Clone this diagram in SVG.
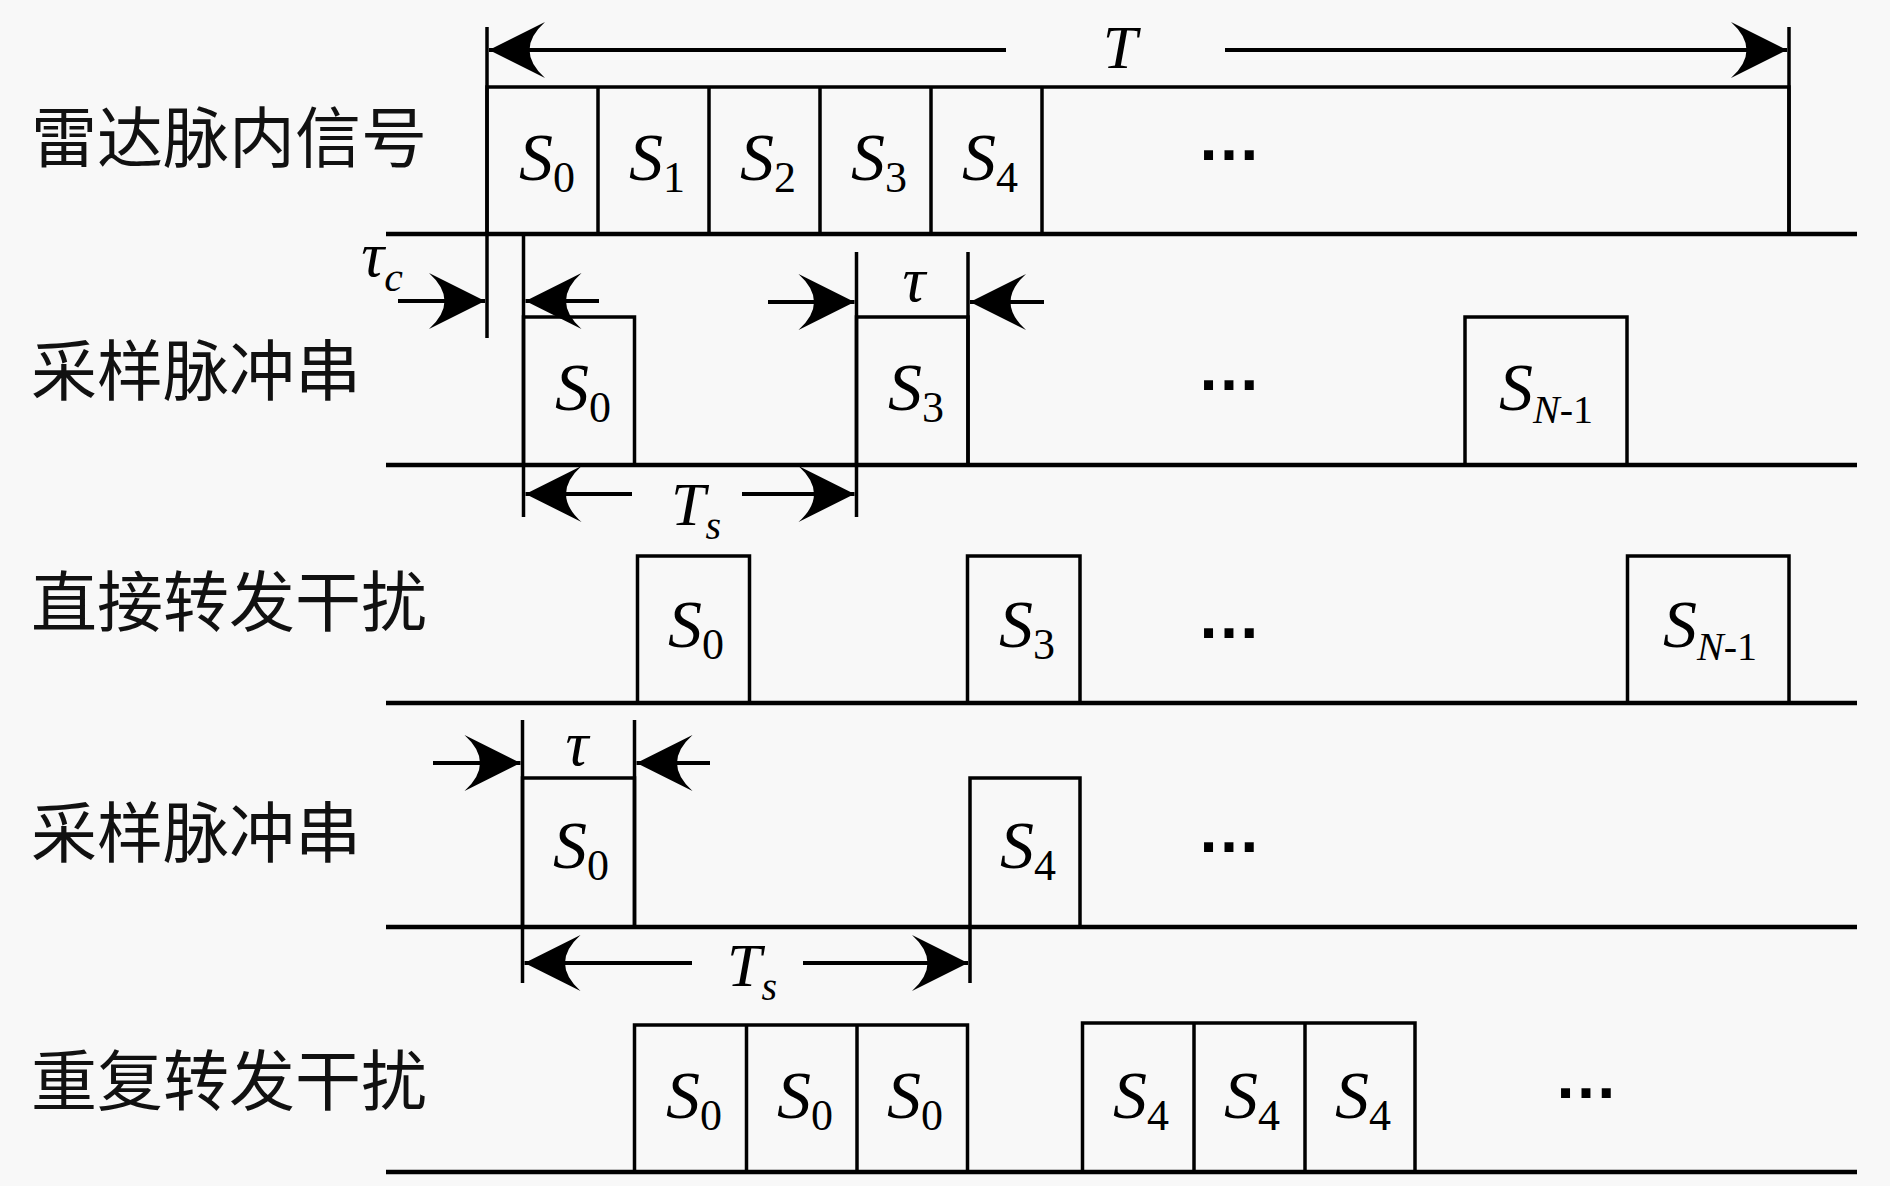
<svg xmlns="http://www.w3.org/2000/svg" width="1890" height="1186" viewBox="0 0 1890 1186">
<style>
.ln{stroke:#000;stroke-width:3.5;fill:none;stroke-linejoin:miter}
.bl{stroke:#000;stroke-width:4.5;fill:none}
.dim{stroke:#000;stroke-width:4;fill:none;marker-end:url(#ah)}
.cn{font-family:"Noto Sans CJK SC","Noto Sans CJK TC",sans-serif;font-size:66px;fill:#111}
.m{font-family:"Liberation Serif",serif;font-size:68px;text-anchor:middle;fill:#000}
.i{font-style:italic}
.sb{font-size:44px;font-style:normal}
.sbn{font-size:40px}
.tau{font-size:64px}
.dots{font-family:"Liberation Sans",sans-serif;font-size:64px;font-weight:bold;text-anchor:middle}
</style>
<defs>
<marker id="ah" viewBox="-60 -30 62 60" refX="0" refY="0" markerWidth="62" markerHeight="60" markerUnits="userSpaceOnUse" orient="auto" overflow="visible">
<path d="M0,0 L-56,-28 Q-25,0 -56,28 Z" fill="#000"/>
</marker>
</defs>
<rect x="0" y="0" width="1890" height="1186" fill="#f8f8f8"/>

<!-- Row labels -->
<g id="label-row1"><text class="cn" x="31" y="162">雷达脉内信号</text></g>
<g id="label-row2"><text class="cn" x="31" y="395">采样脉冲串</text></g>
<g id="label-row3"><text class="cn" x="31" y="626">直接转发干扰</text></g>
<g id="label-row4"><text class="cn" x="31" y="857">采样脉冲串</text></g>
<g id="label-row5"><text class="cn" x="31" y="1105">重复转发干扰</text></g>

<!-- Baselines -->
<g id="baselines">
<line class="bl" x1="386" y1="234" x2="1857" y2="234"/>
<line class="bl" x1="386" y1="465" x2="1857" y2="465"/>
<line class="bl" x1="386" y1="703" x2="1857" y2="703"/>
<line class="bl" x1="386" y1="927" x2="1857" y2="927"/>
<line class="bl" x1="386" y1="1172" x2="1857" y2="1172"/>
</g>

<!-- Row 1: radar intra-pulse signal -->
<g id="row1-signal">
<path class="ln" d="M487,234 V87 H1789 V234"/>
<line class="ln" x1="598" y1="87" x2="598" y2="234"/>
<line class="ln" x1="709" y1="87" x2="709" y2="234"/>
<line class="ln" x1="820" y1="87" x2="820" y2="234"/>
<line class="ln" x1="931" y1="87" x2="931" y2="234"/>
<line class="ln" x1="1042" y1="87" x2="1042" y2="234"/>
<text class="m" x="547" y="180"><tspan class="i">S</tspan><tspan class="sb" dy="12">0</tspan></text>
<text class="m" x="657" y="180"><tspan class="i">S</tspan><tspan class="sb" dy="12">1</tspan></text>
<text class="m" x="768" y="180"><tspan class="i">S</tspan><tspan class="sb" dy="12">2</tspan></text>
<text class="m" x="879" y="180"><tspan class="i">S</tspan><tspan class="sb" dy="12">3</tspan></text>
<text class="m" x="990" y="180"><tspan class="i">S</tspan><tspan class="sb" dy="12">4</tspan></text>
<text class="dots" x="1229" y="160">…</text>
</g>

<!-- Row 2: sampling pulses -->
<g id="row2-s0"><path class="ln" d="M523.5,465 V317 H634.5 V465"/>
<text class="m" x="583" y="410"><tspan class="i">S</tspan><tspan class="sb" dy="12">0</tspan></text></g>
<g id="row2-s3"><path class="ln" d="M856.5,465 V317 H968 V465"/>
<text class="m" x="916" y="410"><tspan class="i">S</tspan><tspan class="sb" dy="12">3</tspan></text></g>
<g id="row2-sn1"><path class="ln" d="M1465,465 V317 H1627 V465"/>
<text class="m" x="1546" y="410"><tspan class="i">S</tspan><tspan class="sbn i" dy="13">N</tspan><tspan class="sbn">-1</tspan></text></g>
<g id="row2-dots"><text class="dots" x="1229" y="390">…</text></g>

<!-- Row 3: direct repeater jamming -->
<g id="row3-s0"><path class="ln" d="M637.5,703 V556 H749.5 V703"/>
<text class="m" x="696" y="647"><tspan class="i">S</tspan><tspan class="sb" dy="12">0</tspan></text></g>
<g id="row3-s3"><path class="ln" d="M967.5,703 V556 H1080 V703"/>
<text class="m" x="1027" y="647"><tspan class="i">S</tspan><tspan class="sb" dy="12">3</tspan></text></g>
<g id="row3-sn1"><path class="ln" d="M1627.5,703 V556 H1789 V703"/>
<text class="m" x="1710" y="647"><tspan class="i">S</tspan><tspan class="sbn i" dy="13">N</tspan><tspan class="sbn">-1</tspan></text></g>
<g id="row3-dots"><text class="dots" x="1229" y="638">…</text></g>

<!-- Row 4: sampling pulses -->
<g id="row4-s0"><path class="ln" d="M522.5,927 V778 H634.5 V927"/>
<text class="m" x="581" y="868"><tspan class="i">S</tspan><tspan class="sb" dy="12">0</tspan></text></g>
<g id="row4-s4"><path class="ln" d="M970,927 V778 H1080 V927"/>
<text class="m" x="1028" y="868"><tspan class="i">S</tspan><tspan class="sb" dy="12">4</tspan></text></g>
<g id="row4-dots"><text class="dots" x="1229" y="852">…</text></g>

<!-- Row 5: repeated repeater jamming -->
<g id="row5-s0"><path class="ln" d="M634.5,1172 V1025 H967.5 V1172"/>
<line class="ln" x1="746.5" y1="1025" x2="746.5" y2="1172"/>
<line class="ln" x1="857" y1="1025" x2="857" y2="1172"/>
<text class="m" x="694" y="1118"><tspan class="i">S</tspan><tspan class="sb" dy="12">0</tspan></text>
<text class="m" x="805" y="1118"><tspan class="i">S</tspan><tspan class="sb" dy="12">0</tspan></text>
<text class="m" x="915" y="1118"><tspan class="i">S</tspan><tspan class="sb" dy="12">0</tspan></text></g>
<g id="row5-s4"><path class="ln" d="M1082.5,1172 V1023 H1415 V1172"/>
<line class="ln" x1="1194" y1="1023" x2="1194" y2="1172"/>
<line class="ln" x1="1305" y1="1023" x2="1305" y2="1172"/>
<text class="m" x="1141" y="1118"><tspan class="i">S</tspan><tspan class="sb" dy="12">4</tspan></text>
<text class="m" x="1252" y="1118"><tspan class="i">S</tspan><tspan class="sb" dy="12">4</tspan></text>
<text class="m" x="1363" y="1118"><tspan class="i">S</tspan><tspan class="sb" dy="12">4</tspan></text></g>
<g id="row5-dots"><text class="dots" x="1586" y="1098">…</text></g>

<!-- Dimension connectors -->
<g id="connectors">
<line class="ln" x1="487" y1="27" x2="487" y2="338"/>
<line class="ln" x1="1789" y1="27" x2="1789" y2="234"/>
<line class="dim" x1="1006" y1="50" x2="489" y2="50"/>
<line class="dim" x1="1225" y1="50" x2="1787" y2="50"/>

<line class="ln" x1="523.5" y1="234" x2="523.5" y2="517"/>
<line class="dim" x1="398" y1="301" x2="485" y2="301"/>
<line class="dim" x1="599" y1="301" x2="525.5" y2="301"/>

<line class="ln" x1="856.5" y1="252" x2="856.5" y2="517"/>
<line class="ln" x1="968" y1="252" x2="968" y2="465"/>
<line class="dim" x1="768" y1="302" x2="854.5" y2="302"/>
<line class="dim" x1="1044" y1="302" x2="970" y2="302"/>

<line class="dim" x1="632" y1="494" x2="525.5" y2="494"/>
<line class="dim" x1="742" y1="494" x2="854.5" y2="494"/>

<line class="ln" x1="522.5" y1="720" x2="522.5" y2="983"/>
<line class="ln" x1="634.5" y1="720" x2="634.5" y2="927"/>
<line class="dim" x1="433" y1="763" x2="520.5" y2="763"/>
<line class="dim" x1="710" y1="763" x2="636.5" y2="763"/>

<line class="ln" x1="970" y1="927" x2="970" y2="983"/>
<line class="dim" x1="692" y1="963" x2="524.5" y2="963"/>
<line class="dim" x1="803" y1="963" x2="968" y2="963"/>
</g>

<!-- Dimension labels -->
<g id="dim-labels">
<text class="m i" x="1120" y="68" style="font-size:62px">T</text>
<text class="m i tau" x="382" y="276">τ<tspan style="font-size:42px" dy="15">c</tspan></text>
<text class="m i tau" x="914" y="301">τ</text>
<text class="m i tau" x="577" y="765">τ</text>
<text class="m i" x="696" y="525" style="font-size:62px">T<tspan style="font-size:40px" dy="14">s</tspan></text>
<text class="m i" x="752" y="986" style="font-size:62px">T<tspan style="font-size:40px" dy="14">s</tspan></text>
</g>
</svg>
